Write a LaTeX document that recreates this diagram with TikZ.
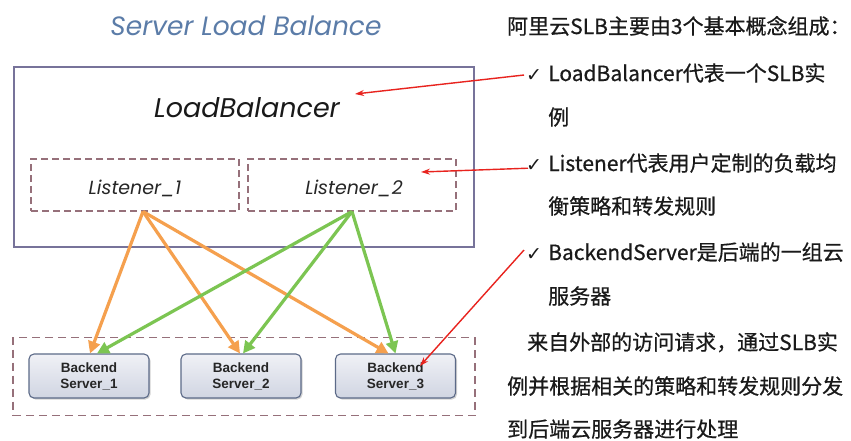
\documentclass[tikz,border=0pt]{standalone}
\usepackage{fontspec}
\setmainfont{Liberation Sans}
\newfontfamily\cjk{Noto Sans CJK SC}[FakeBold=0.6]
\newfontfamily\geo{Poppins}
\newfontfamily\sym{DejaVu Sans}
\usetikzlibrary{arrows.meta,shadows}
\definecolor{titleblue}{HTML}{5B7CA8}
\definecolor{lbborder}{HTML}{77739A}
\definecolor{dashrose}{HTML}{96707A}
\definecolor{srvborder}{HTML}{5C6A88}
\definecolor{srvtop}{HTML}{F0F1F6}
\definecolor{srvbot}{HTML}{D0D5E2}
\definecolor{orangeln}{HTML}{F5A04E}
\definecolor{greenln}{HTML}{7CC552}
\definecolor{redln}{HTML}{E8231E}
\definecolor{txt}{HTML}{1A1A1A}
\begin{document}
\begin{tikzpicture}[x=1pt,y=-1pt,
  lbbox/.style={draw=lbborder,line width=1.6pt,minimum width=460pt,minimum height=180pt,inner sep=0pt},
  lsbox/.style={draw=dashrose,line width=1.1pt,dash pattern=on 7pt off 4pt,minimum width=208pt,minimum height=52pt,inner sep=0pt},
  grpbox/.style={draw=dashrose,line width=1.1pt,dash pattern=on 8pt off 5pt,minimum width=462pt,minimum height=78pt,inner sep=0pt},
  srvbox/.style={draw=srvborder,line width=1.1pt,rounded corners=5pt,top color=srvtop,bottom color=srvbot,
     minimum width=120pt,minimum height=44pt,inner sep=0pt,align=center,
     font=\fontsize{13.5}{16}\selectfont\bfseries,text=black!85,
     drop shadow={shadow xshift=1.5pt,shadow yshift=-1.5pt,opacity=0.35}},
  geotxt/.style={font=\geo\itshape,inner sep=0pt},
  rtxt/.style={font=\cjk\fontsize{21}{25}\selectfont,text=txt,anchor=base west,inner sep=0pt},
  chk/.style={font=\sym\fontsize{19}{22}\selectfont,text=txt,anchor=base west,inner sep=0pt},
  flowO/.style={draw=orangeln,line width=3.2pt,-{Triangle[length=12pt,width=12pt]}},
  flowG/.style={draw=greenln,line width=3.2pt,-{Triangle[length=12pt,width=12pt]}},
  redarrow/.style={draw=redln,line width=1.4pt,-{Stealth[length=9pt,width=6pt]}}
]
\useasboundingbox (0,0) rectangle (851,440);
\fill[white] (0,0) rectangle (851,440);

% title
\node[geotxt,text=titleblue,font=\geo\itshape\fontsize{26.5}{31}\selectfont,anchor=base] (title) at (246,35) {Server Load Balance};

% load balancer
\node[lbbox] (lb) at (244,157) {};
\node[geotxt,font=\geo\itshape\fontsize{27}{32}\selectfont,anchor=base,text=black!90] (lbt) at (247,117) {LoadBalancer};
\node[lsbox] (l1) at (135,185) {};
\node[lsbox] (l2) at (352,185) {};
\node[geotxt,font=\geo\itshape\fontsize{19}{23}\selectfont,anchor=base,text=black!85] (l1t) at (135,194) {Listener\_1};
\node[geotxt,font=\geo\itshape\fontsize{19}{23}\selectfont,anchor=base,text=black!85] (l2t) at (354,194) {Listener\_2};

% backend group
\node[grpbox] (grp) at (244,376.5) {};
\node[srvbox] (s1) at (89,376) {Backend\\Server\_1};
\node[srvbox] (s2) at (241,376) {Backend\\Server\_2};
\node[srvbox] (s3) at (395.5,376) {Backend\\Server\_3};

% flows
\draw[flowO] ([xshift=8pt]l1.south) -- ([xshift=1pt]s1.north);
\draw[flowO] ([xshift=8pt]l1.south) -- ([xshift=-1pt]s2.north);
\draw[flowO] ([xshift=8pt]l1.south) -- ([xshift=-7pt]s3.north);
\draw[flowG] (l2.south) -- ([xshift=8pt]s1.north);
\draw[flowG] (l2.south) -- ([xshift=2pt]s2.north);
\draw[flowG] (l2.south) -- ([xshift=0pt]s3.north);

% right text
\node[rtxt] (r1) at (507,34) {阿里云SLB主要由3个基本概念组成：};
\node[chk] (c1) at (526,81) {✓};
\node[rtxt] (r2) at (548,81) {LoadBalancer代表一个SLB实};
\node[rtxt] (r3) at (548,125) {例};
\node[chk] (c2) at (526,171) {✓};
\node[rtxt] (r4) at (548,171) {Listener代表用户定制的负载均};
\node[rtxt] (r5) at (548,214) {衡策略和转发规则};
\node[chk] (c3) at (526,260) {✓};
\node[rtxt] (r6) at (548,260) {BackendServer是后端的一组云};
\node[rtxt] (r7) at (548,304) {服务器};
\node[rtxt] (r8) at (527,350) {来自外部的访问请求，通过SLB实};
\node[rtxt] (r9) at (507,394) {例并根据相关的策略和转发规则分发};
\node[rtxt] (r10) at (507,437) {到后端云服务器进行处理};

% red pointers
\coordinate (t1) at (355,94);
\coordinate (t2) at (421,172);
\coordinate (t3) at (420,366);
\draw[redarrow] ([xshift=-2pt]c1.west) -- (t1);
\draw[redarrow] ([xshift=2pt,yshift=3pt]c2.south west) -- (t2);
\draw[redarrow] ([xshift=-2pt,yshift=4pt]c3.west) -- (t3);
\end{tikzpicture}
\end{document}
